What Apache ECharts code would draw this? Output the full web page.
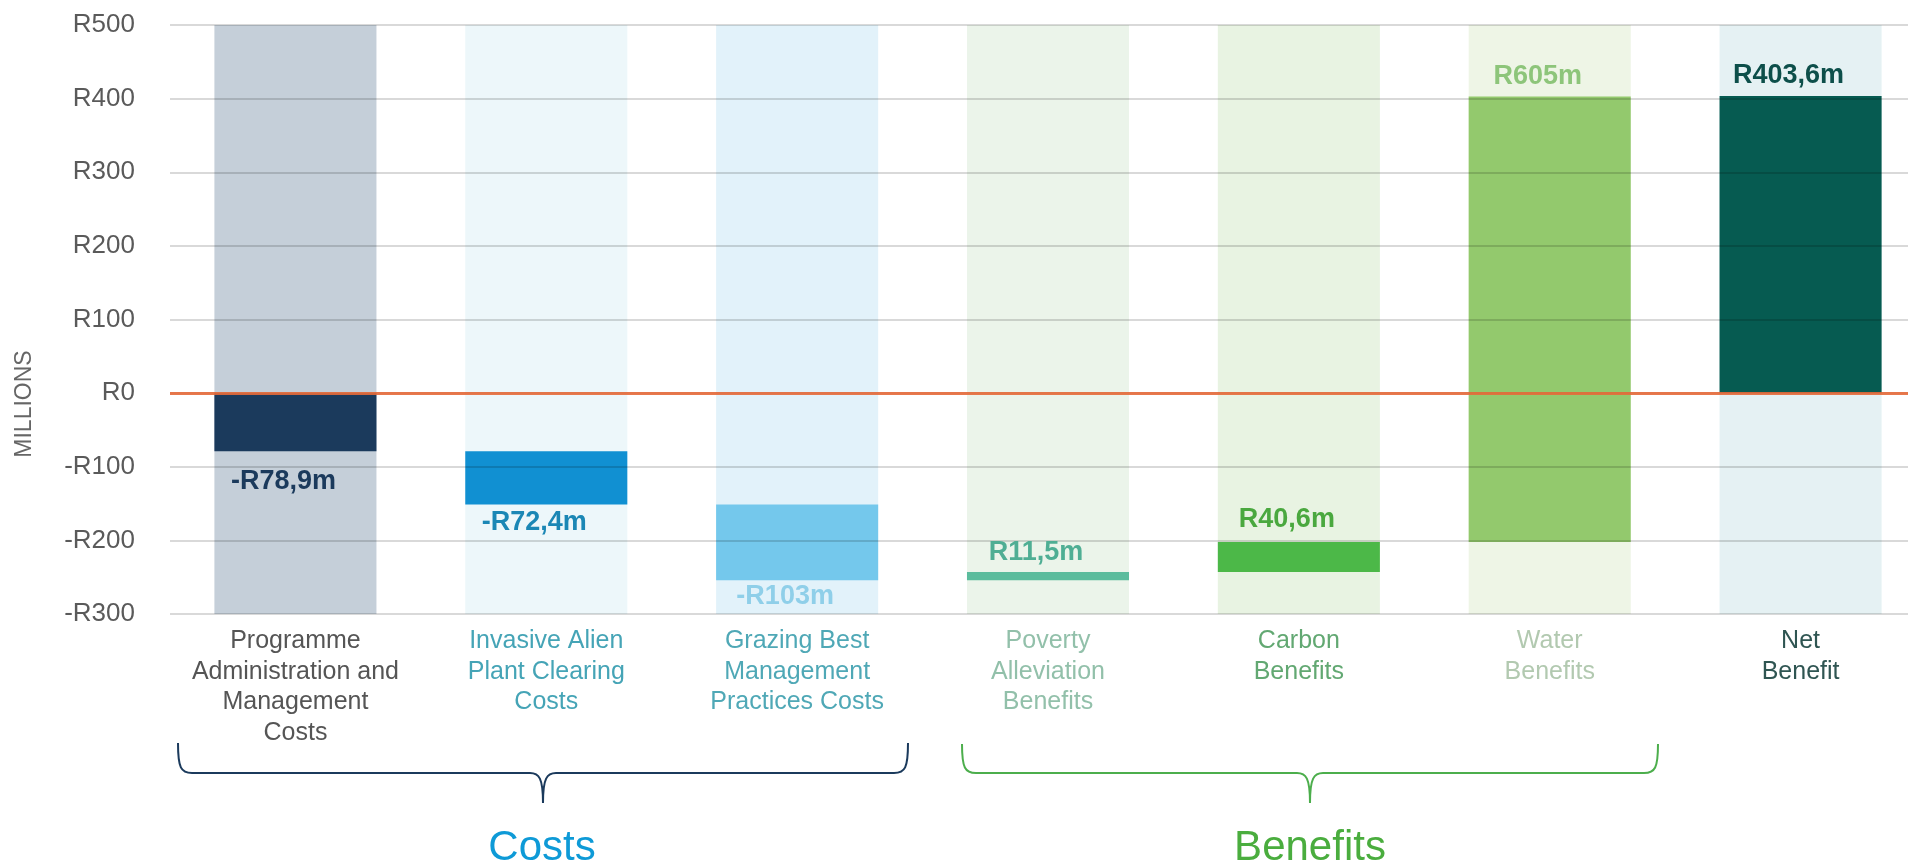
<!DOCTYPE html>
<html>
<head>
<meta charset="utf-8">
<script src="https://cdn.jsdelivr.net/npm/echarts@6/dist/echarts.min.js"></script>
<style>
  html, body { margin: 0; padding: 0; background: #ffffff; }
  #chart { width: 1908px; height: 867px; }
</style>
</head>
<body>
<div id="chart"></div>
<script>
// ---- data ----
const categories = [
  'Programme\nAdministration and\nManagement\nCosts',
  'Invasive Alien\nPlant Clearing\nCosts',
  'Grazing Best\nManagement\nPractices Costs',
  'Poverty\nAlleviation\nBenefits',
  'Carbon\nBenefits',
  'Water\nBenefits',
  'Net\nBenefit'
];
// change in R millions; the last entry is the net total drawn from zero
const changes = [-78.9, -72.4, -103, 11.5, 40.6, 605, 403.6];
const isTotal = [false, false, false, false, false, false, true];
const axisMin = -300;
const axisMax = 500;
const axisStep = 100;
const groupNames = ['Costs', 'Benefits'];

// ---- styling ----
const FONT = '"Liberation Sans", Arial, Helvetica, sans-serif';
const barColors      = ['#1b3a5c', '#1190d2', '#74c8ec', '#5bbc9d', '#4cb848', '#93c96d', '#065b51'];
const bandColors     = ['#c5cfd9', '#edf7fa', '#e2f2fa', '#ebf4ea', '#e8f3e2', '#eef5e6', '#e5f1f3'];
const valueColors    = ['#1b3a5c', '#1b87b5', '#8fcfe9', '#4fae94', '#4aa83f', '#8dc57a', '#0d4f4a'];
const categoryColors = ['#555555', '#45a4b6', '#4fa8b6', '#92c0aa', '#62a872', '#b2c9b0', '#2f5552'];
const valueGaps      = [30, 18, 16, 19, 22, 20, 20];
const BAR_RATIO = 0.646;

// waterfall extents built from the changes
const spans = [];
let running = 0;
changes.forEach((v, i) => {
  if (isTotal[i]) {
    spans.push([i, 0, v]);
  } else {
    spans.push([i, running, running + v]);
    running += v;
  }
});
const bands = categories.map((c, i) => [i, axisMin, axisMax]);

function formatValue(v) {
  return (v < 0 ? '-' : '') + 'R' + String(Math.abs(v)).replace('.', ',') + 'm';
}
function formatTick(v) {
  return (v < 0 ? '-R' : 'R') + Math.abs(v);
}

function columnRect(api, i, a, b) {
  const w = api.size([1, 0])[0] * BAR_RATIO;
  const p1 = api.coord([i, Math.max(a, b)]);
  const p2 = api.coord([i, Math.min(a, b)]);
  return { x: p1[0] - w / 2, y: p1[1], width: w, height: p2[1] - p1[1] };
}

// curly bracket under a group of columns, built from curves and lines
function bracket(left, right, mid, top, bar, tip, color) {
  const st = { fill: 'none', stroke: color, lineWidth: 2 };
  const curve = (x1, y1, cx1, cy1, cx2, cy2, x2, y2) => ({
    type: 'bezierCurve',
    shape: { x1, y1, cpx1: cx1, cpy1: cy1, cpx2: cx2, cpy2: cy2, x2, y2 },
    style: st
  });
  const line = (x1, y1, x2, y2) => ({ type: 'line', shape: { x1, y1, x2, y2 }, style: st });
  return {
    type: 'group',
    silent: true,
    children: [
      curve(left, top, left, bar - 5, left + 3, bar, left + 14, bar),
      line(left + 14, bar, mid - 13, bar),
      curve(mid - 13, bar, mid - 4, bar, mid, bar + 5, mid, tip),
      curve(mid, tip, mid, bar + 5, mid + 4, bar, mid + 13, bar),
      line(mid + 13, bar, right - 14, bar),
      curve(right - 14, bar, right - 3, bar, right, bar - 5, right, top)
    ]
  };
}

const chart = echarts.init(document.getElementById('chart'), null, { renderer: 'canvas' });

chart.setOption({
  animation: false,
  backgroundColor: '#ffffff',
  textStyle: { fontFamily: FONT },
  grid: {
    left: 170, top: 25, width: 1756, height: 589,
    containLabel: false,
    outerBoundsMode: 'none'
  },
  xAxis: {
    type: 'category',
    data: categories,
    axisLine: { show: false },
    axisTick: { show: false },
    splitLine: { show: false },
    axisLabel: {
      interval: 0,
      margin: 12,
      fontSize: 25,
      lineHeight: 30.5,
      fontFamily: FONT,
      align: 'center',
      color: (val, idx) => categoryColors[idx]
    }
  },
  yAxis: {
    type: 'value',
    min: axisMin,
    max: axisMax,
    interval: axisStep,
    z: 4,
    axisLine: { show: false },
    axisTick: { show: false },
    axisLabel: {
      margin: 35,
      fontSize: 26,
      color: '#5a5a5a',
      fontFamily: FONT,
      formatter: formatTick
    },
    splitLine: { lineStyle: { color: 'rgba(0,0,0,0.15)', width: 2 } }
  },
  series: [
    {
      name: 'bands',
      type: 'custom',
      z: 1,
      silent: true,
      data: bands,
      encode: { x: 0, y: [1, 2] },
      renderItem: (params, api) => {
        const i = api.value(0);
        return {
          type: 'rect',
          shape: columnRect(api, i, api.value(1), api.value(2)),
          style: { fill: bandColors[i] }
        };
      }
    },
    {
      name: 'waterfall',
      type: 'custom',
      z: 3,
      data: spans,
      encode: { x: 0, y: [1, 2] },
      renderItem: (params, api) => {
        const i = api.value(0);
        return {
          type: 'rect',
          shape: columnRect(api, i, api.value(1), api.value(2)),
          style: { fill: barColors[i] }
        };
      },
      markLine: {
        silent: true,
        symbol: 'none',
        z: 6,
        label: { show: false },
        lineStyle: { color: '#e56a3a', width: 3, type: 'solid', opacity: 0.9 },
        data: [{ yAxis: 0 }]
      }
    },
    {
      name: 'values',
      type: 'custom',
      z: 8,
      data: spans,
      encode: { x: 0, y: [1, 2] },
      renderItem: (params, api) => {
        const i = api.value(0);
        const v = changes[i];
        const start = api.value(1);
        const end = api.value(2);
        const edge = v < 0 ? Math.min(start, end) : Math.max(start, end);
        const p = api.coord([i, edge]);
        return {
          type: 'text',
          x: p[0] - 12,
          y: p[1] + (v < 0 ? valueGaps[i] : -valueGaps[i]),
          style: {
            text: formatValue(v),
            fill: valueColors[i],
            font: 'bold 27px ' + FONT,
            align: 'center',
            verticalAlign: 'middle'
          }
        };
      }
    }
  ],
  graphic: [
    {
      type: 'text',
      x: 25, y: 404,
      rotation: Math.PI / 2,
      silent: true,
      style: {
        text: 'MILLIONS',
        fill: '#666666',
        font: '23px ' + FONT,
        align: 'center',
        verticalAlign: 'middle'
      }
    },
    bracket(178, 908, 543, 743, 773, 803, '#1b3a5c'),
    bracket(962, 1658, 1310, 744, 773, 803, '#4cae4c'),
    {
      type: 'text',
      x: 542, y: 848,
      silent: true,
      style: {
        text: groupNames[0],
        fill: '#0e9ad7',
        font: '42px ' + FONT,
        align: 'center',
        verticalAlign: 'middle'
      }
    },
    {
      type: 'text',
      x: 1310, y: 848,
      silent: true,
      style: {
        text: groupNames[1],
        fill: '#4aad3e',
        font: '42px ' + FONT,
        align: 'center',
        verticalAlign: 'middle'
      }
    }
  ]
});
</script>
</body>
</html>
